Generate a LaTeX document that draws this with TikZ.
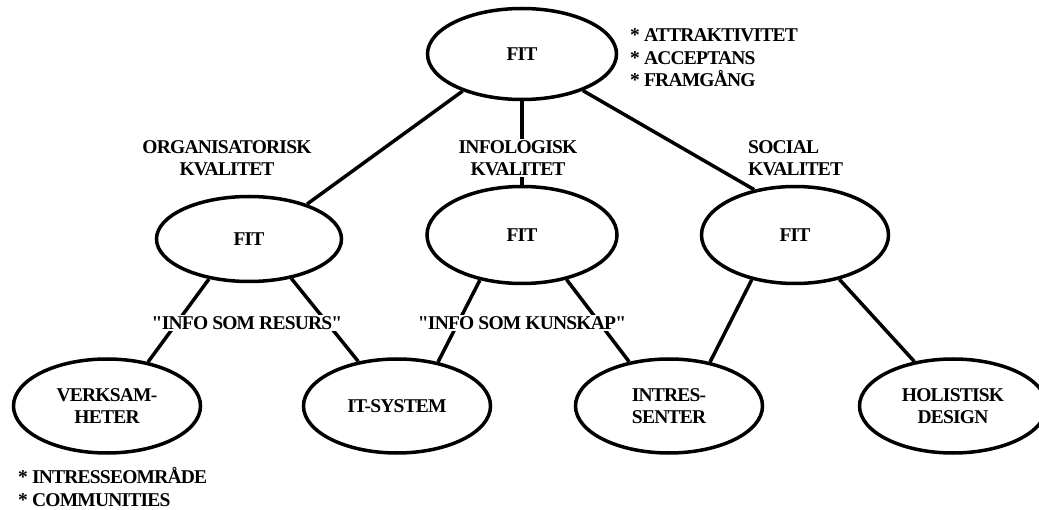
\documentclass[tikz,border=0pt]{standalone}
\usepackage{fontspec}
\newfontfamily\diafont{Liberation Serif Bold}[LetterSpace=-4]
\usetikzlibrary{shapes.geometric}
\begin{document}
\begin{tikzpicture}[x=1pt,y=-1pt,
  every node/.style={font=\diafont\fontsize{19.5}{22.5}\selectfont},
  oval/.style={ellipse, draw, line width=3.5pt, inner sep=0pt, align=center},
  lower/.style={oval, minimum width=187pt, minimum height=94pt},
  link/.style={line width=3.5pt},
  tag/.style={inner sep=0pt, align=center},
  mask/.style={tag, inner sep=1pt, fill=white}]
\useasboundingbox (0,0) rectangle (1039,510);

% top level
\node[oval, minimum width=189pt, minimum height=91pt] (top) at (522,54) {FIT};
\node[tag, anchor=west, align=left] (goals) at (630,58)
  {* ATTRAKTIVITET\\* ACCEPTANS\\* FRAMGÅNG};

% quality levels
\node[oval, minimum width=185pt, minimum height=85pt] (ml) at (249,239) {FIT};
\node[oval, minimum width=190pt, minimum height=97pt] (mc) at (522,235) {FIT};
\node[oval, minimum width=187pt, minimum height=97pt] (mr) at (795,235) {FIT};

% base concepts
\node[lower] (vb) at (107,406) {VERKSAM-\\HETER};
\node[lower] (it) at (397,406) {IT-SYSTEM};
\node[lower] (in) at (669,406) {INTRES-\\SENTER};
\node[lower] (ho) at (953,406) {HOLISTISK\\DESIGN};

% connectors
\draw[link] (top.212) -- (ml.31);
\draw[link] (top.270) -- (mc.90);
\draw[link] (top.329) -- (mr.132);
\draw[link] (ml.225) -- (vb.47);
\draw[link] (ml.317) -- (it.131);
\draw[link] (mc.227) -- (it.47);
\draw[link] (mc.315) -- (in.132);
\draw[link] (mr.226) -- (in.47);
\draw[link] (mr.315) -- (ho.131);

% labels
\node[mask] (orgq) at (227,158) {ORGANISATORISK\\KVALITET};
\node[mask] (infq) at (518,158) {INFOLOGISK\\KVALITET};
\node[tag, anchor=west, align=left] (socq) at (748,158) {SOCIAL\\KVALITET};
\node[mask] (res) at (247,323) {"INFO SOM RESURS"};
\node[mask] (kun) at (522,323) {"INFO SOM KUNSKAP"};
\node[tag, anchor=west, align=left] (notes) at (18,487)
  {* INTRESSEOMRÅDE\\* COMMUNITIES};
\end{tikzpicture}
\end{document}
